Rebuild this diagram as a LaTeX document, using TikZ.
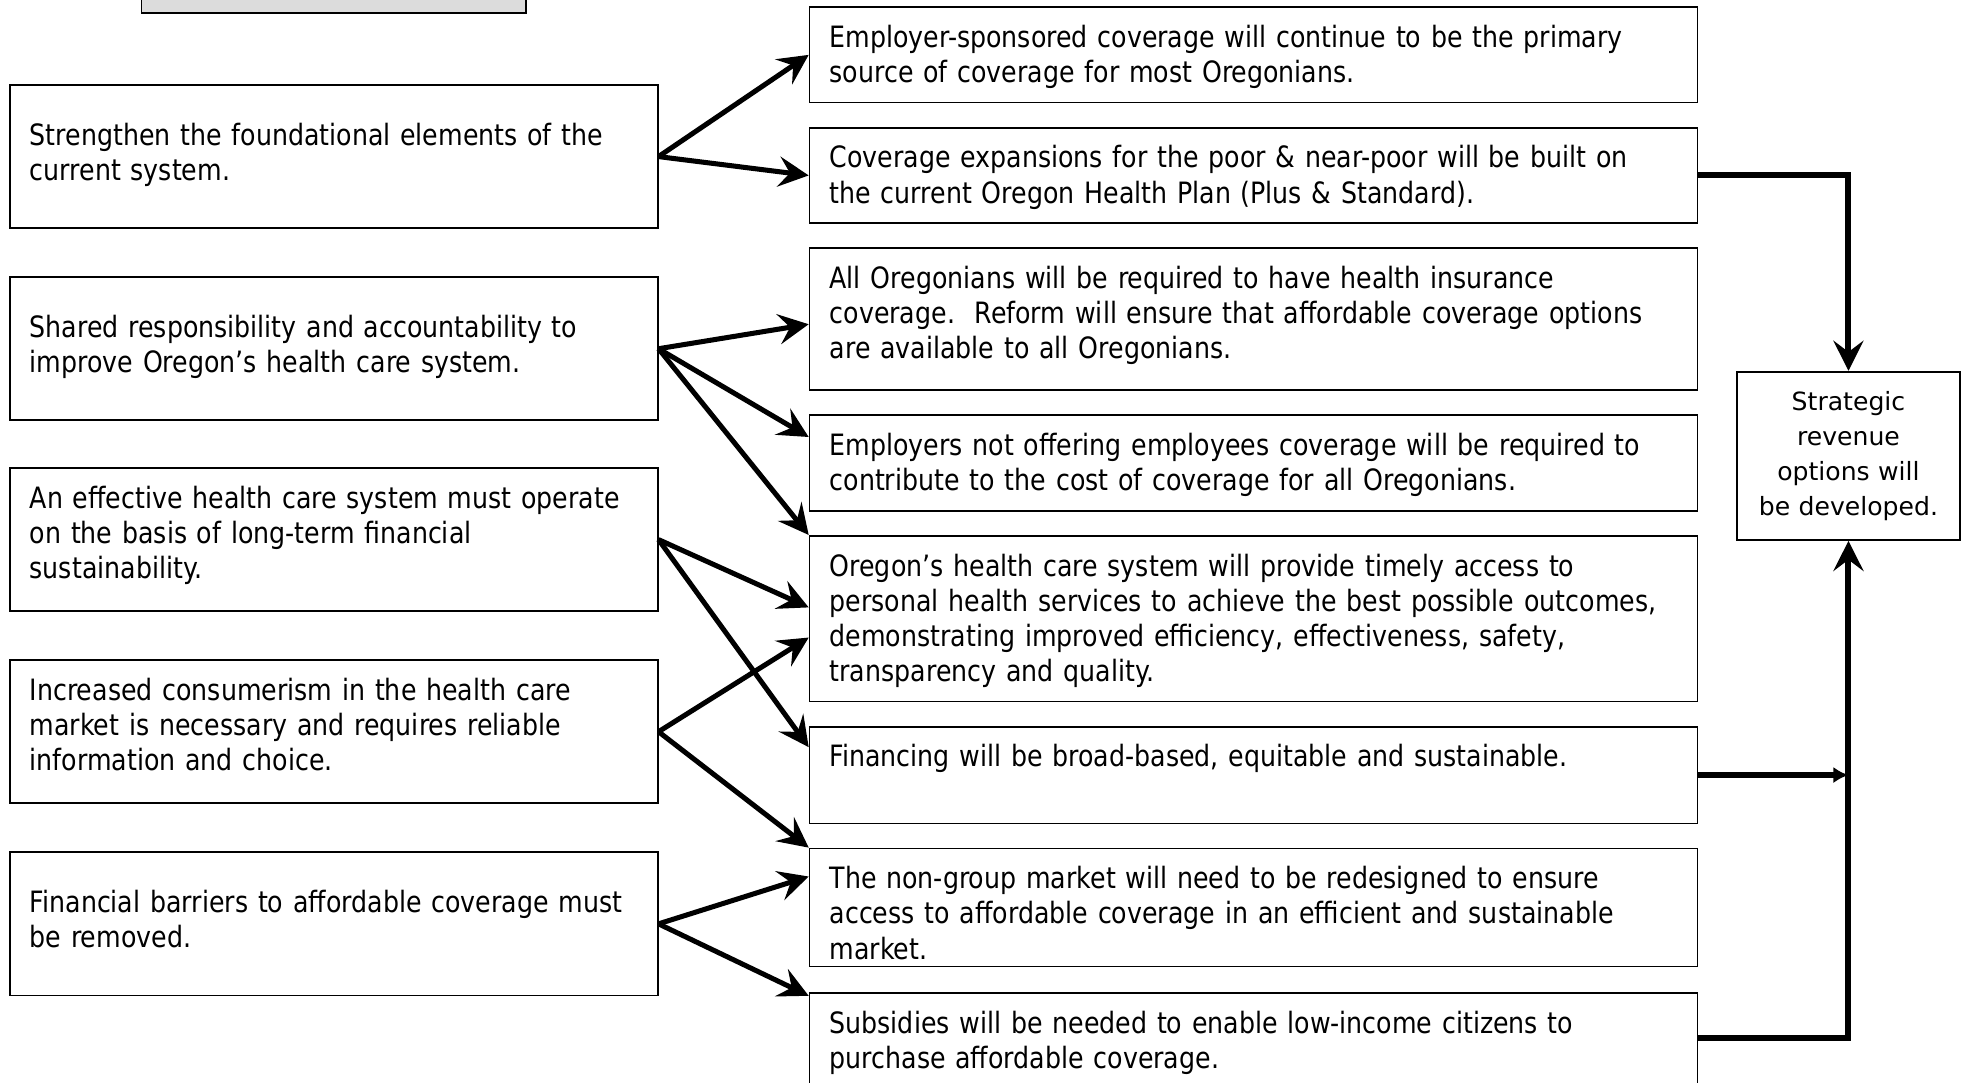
\documentclass[tikz,border=0pt]{standalone}
\usepackage{fontspec}
\setmainfont{DejaVu Sans}[FakeStretch=0.86]
\newfontfamily\revfont{DejaVu Sans}
\usetikzlibrary{arrows.meta}
\definecolor{hdrgray}{RGB}{220,220,220}
\tikzset{
  goal/.style={draw,line width=0.7pt,anchor=north west,align=left,text width=242pt,inner xsep=8pt,inner ysep=0pt,font=\fontsize{11.7}{14}\selectfont},
  res/.style={goal,text width=337.5pt,text height=16pt},
  arr/.style={-{Stealth[length=12pt,width=12pt,inset=4.5pt]},line width=2pt},
  feed/.style={-{Stealth[length=12pt,width=12pt,inset=4.5pt]},line width=2.4pt}
}
\begin{document}
\begin{tikzpicture}[x=0.5pt,y=0.5pt,
 twoline/.style={text height=24pt,text depth=33pt},
 threeline/.style={text height=16pt,text depth=41pt}]
\useasboundingbox (0,0) rectangle (1568,-862);
\clip (0,0) rectangle (1568,-862);
\node[draw,line width=0.7pt,fill=hdrgray,anchor=south west,minimum width=153pt,minimum height=40pt] (hdr) at (112,-11) {};
\node[goal,twoline] (l1) at (7,-67) {Strengthen the foundational elements of the\\current system.};
\node[goal,twoline] (l2) at (7,-220) {Shared responsibility and accountability to\\improve Oregon’s health care system.};
\node[goal,threeline] (l3) at (7,-372) {An effective health care system must operate\\on the basis of long-term financial\\sustainability.};
\node[goal,threeline] (l4) at (7,-525) {Increased consumerism in the health care\\market is necessary and requires reliable\\information and choice.};
\node[goal,twoline] (l5) at (7,-678) {Financial barriers to affordable coverage must\\be removed.};
\node[res,text depth=22pt] (m1) at (644,-5) {Employer-sponsored coverage will continue to be the primary\\source of coverage for most Oregonians.};
\node[res,text depth=22pt] (m2) at (644,-101) {Coverage expansions for the poor \& near-poor will be built on\\the current Oregon Health Plan (Plus \& Standard).};
\node[res,text depth=40.5pt] (m3) at (644,-197) {All Oregonians will be required to have health insurance\\coverage.\ \ Reform will ensure that affordable coverage options\\are available to all Oregonians.};
\node[res,text depth=22pt] (m4) at (644,-330) {Employers not offering employees coverage will be required to\\contribute to the cost of coverage for all Oregonians.};
\node[res,text depth=50pt] (m5) at (644,-426) {Oregon’s health care system will provide timely access to\\personal health services to achieve the best possible outcomes,\\demonstrating improved efficiency, effectiveness, safety,\\transparency and quality.};
\node[res,text depth=22.5pt] (m6) at (644,-578) {Financing will be broad-based, equitable and sustainable.};
\node[res,text depth=31pt] (m7) at (644,-675) {The non-group market will need to be redesigned to ensure\\access to affordable coverage in an efficient and sustainable\\market.};
\node[res,text depth=34pt] (m8) at (644,-790) {Subsidies will be needed to enable low-income citizens to\\purchase affordable coverage.};
\node[draw,line width=0.7pt,minimum height=67pt,text width=80pt,align=center,inner xsep=4.5pt,font=\revfont\fontsize{10}{14}\selectfont] (r) at (1472,-363) {Strategic\\revenue\\options will\\be developed.};
\draw[arr] (l1.east) -- (m1.west);
\draw[arr] (l1.east) -- (m2.west);
\draw[arr] (l2.east) -- ([yshift=-2pt]m3.west);
\draw[arr] (l2.east) -- ([yshift=-9pt]m4.north west);
\draw[arr] (l2.east) -- (m5.north west);
\draw[arr] (l3.east) -- ([yshift=4.5pt]m5.west);
\draw[arr] (l3.east) -- ([yshift=-8.5pt]m6.north west);
\draw[arr] (l4.east) -- ([yshift=-7.5pt]m5.west);
\draw[arr] (l4.east) -- (m7.north west);
\draw[arr] (l5.east) -- ([yshift=-11.5pt]m7.north west);
\draw[arr] (l5.east) -- ([yshift=-1.5pt]m8.north west);
\draw[feed] (m2.east) -| (r.north);
\draw[feed] ([yshift=7pt]m8.east) -| (r.south);
\draw[line width=2.4pt,-{Latex[length=6pt,width=6.5pt]}] (m6.east) -- (m6.east -| r.south);
\end{tikzpicture}
\end{document}
